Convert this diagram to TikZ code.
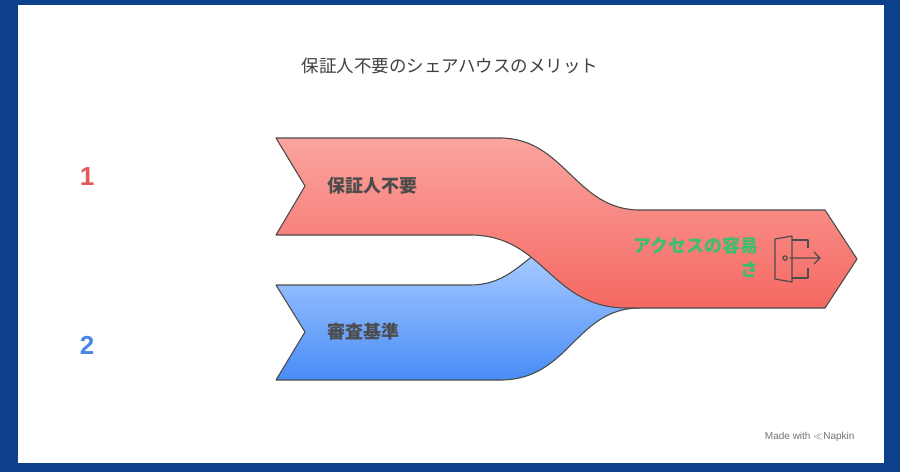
\documentclass[tikz,border=0pt]{standalone}
\usepackage{fontspec}
\setmainfont{Noto Sans CJK JP}
\newfontfamily\latinf{Liberation Sans}
\begin{document}
\begin{tikzpicture}[x=1pt,y=-1pt,
  lbl/.style={font=\bfseries\fontsize{18}{21}\selectfont,text=black!70},
  edge/.style={draw=black!70,line width=1.1pt,line join=round},
  num/.style={font=\latinf\bfseries\fontsize{26}{28}\selectfont}]
\fill[fill={rgb,255:red,13;green,64;blue,140}] (0,0) rectangle (900,472);
\fill[white] (18,5) rectangle (884,463);
\useasboundingbox (0,0) rectangle (900,472);
\node[font=\fontsize{17.5}{20}\selectfont,text=black!75] (title) at (450,66) {保証人不要のシェアハウスのメリット};
\node[num,text={rgb,255:red,228;green,87;blue,87}] (n1) at (87,177) {1};
\node[num,text={rgb,255:red,74;green,134;blue,232}] (n2) at (87,345) {2};
% blue band
\path[edge,top color={rgb,255:red,170;green,204;blue,255},bottom color={rgb,255:red,72;green,140;blue,247}]
 (276,285) -- (470,285) .. controls (500,285) and (515,270) .. (540,250) -- (600,300)
 -- (640,308) .. controls (575,308) and (570,380) .. (500,380) -- (276,380) -- (305,332) -- cycle;
% red band
\path[edge,top color={rgb,255:red,250;green,164;blue,158},bottom color={rgb,255:red,246;green,104;blue,98}]
 (276,138) -- (500,138) .. controls (565,138) and (575,210) .. (640,210) -- (825,210) -- (857,259)
 -- (825,308) -- (627,308) .. controls (550,308) and (545,235) .. (470,235) -- (276,235) -- (305,186) -- cycle;
\node[lbl,anchor=west] (a) at (324,186) {保証人不要};
\node[lbl,anchor=west] (b) at (324,332) {審査基準};
\node[font=\bfseries\fontsize{18}{24}\selectfont,text={rgb,255:red,60;green,190;blue,110},align=right,anchor=east,inner sep=0pt] (c) at (759,257) {アクセスの容易\\さ};
% door icon
\begin{scope}[draw=black!70,line width=1.2pt,line join=round]
\draw (775,239) -- (792,236) -- (792,282) -- (775,279) -- cycle;
\draw (785,258) circle (2.2);
\draw (792,240) -- (808,240) -- (808,248);
\draw (808,268) -- (808,278) -- (792,278);
\draw[line cap=round] (790,258) -- (820,258) (814,252) -- (820,258) -- (814,264);
\end{scope}
\node[font=\latinf\fontsize{10}{12}\selectfont,text=black!55,anchor=east] (m) at (858,437) {Made with \textbf{\reflectbox{$\gg$}}Napkin};
\end{tikzpicture}
\end{document}
